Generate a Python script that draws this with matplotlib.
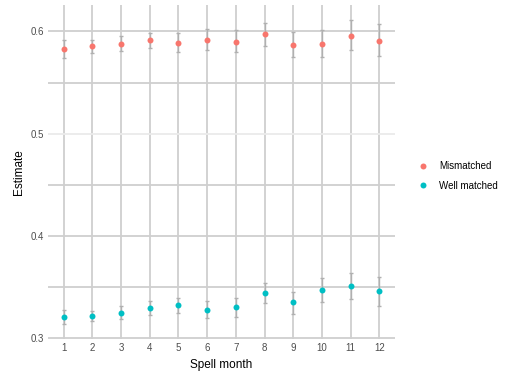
import matplotlib
matplotlib.use("Agg")
import matplotlib.pyplot as plt
from matplotlib.lines import Line2D

plt.rcParams['font.family'] = ['Liberation Sans', 'DejaVu Sans']

months = list(range(1, 13))
groups = ["Mismatched", "Well matched"]
mis_est = [0.583, 0.586, 0.588, 0.592, 0.589, 0.592, 0.590, 0.597, 0.587, 0.588, 0.596, 0.591]
mis_lo = [0.574, 0.579, 0.581, 0.584, 0.580, 0.582, 0.580, 0.586, 0.575, 0.575, 0.582, 0.576]
mis_hi = [0.592, 0.592, 0.596, 0.598, 0.598, 0.602, 0.601, 0.608, 0.599, 0.601, 0.611, 0.607]
well_est = [0.321, 0.322, 0.325, 0.3295, 0.332, 0.328, 0.330, 0.344, 0.335, 0.347, 0.351, 0.346]
well_lo = [0.314, 0.317, 0.319, 0.323, 0.325, 0.320, 0.321, 0.334, 0.324, 0.335, 0.338, 0.3315]
well_hi = [0.328, 0.327, 0.331, 0.336, 0.339, 0.336, 0.339, 0.354, 0.345, 0.359, 0.364, 0.360]
colors = ["#F8766D", "#00BFC4"]
yticks = [0.3, 0.4, 0.5, 0.6]
minor_y = [0.35, 0.45, 0.55]

fig = plt.figure(figsize=(5.05, 3.74), dpi=100)
ax = fig.add_axes([48/505, 1-339/374, (395-48)/505, (339-5)/374])

ymin = min(mis_lo + well_lo)
ymax = max(mis_hi + well_hi)
r = ymax - ymin
ax.set_ylim(ymin - 0.05*r, ymax + 0.05*r)
ax.set_xlim(1 - 0.05*11, 12 + 0.05*11)

grid_dark = "#cfcfcf"
for m in months:
    ax.axvline(m, color=grid_dark, lw=1.3, zorder=0)
for y in yticks + minor_y:
    c = "#ebebeb" if y == 0.5 else grid_dark
    ax.axhline(y, color=c, lw=1.3, zorder=0)

for est, lo, hi, col in [(mis_est, mis_lo, mis_hi, colors[0]), (well_est, well_lo, well_hi, colors[1])]:
    yerr = [[e - l for e, l in zip(est, lo)], [h - e for e, h in zip(est, hi)]]
    ax.errorbar(months, est, yerr=yerr, fmt='none', ecolor="#b0b0b0", elinewidth=1.0,
                capsize=1.5, capthick=1.0, zorder=2)
    ax.plot(months, est, 'o', color=col, markersize=4.3, markeredgewidth=0, zorder=3)

for s in ax.spines.values():
    s.set_visible(False)
ax.set_xticks(months)
ax.set_xticklabels([str(m) for m in months])
ax.set_yticks(yticks)
ax.set_yticklabels(["0.3", "0.4", "0.5", "0.6"])
ax.tick_params(axis='both', length=0, labelsize=7, labelcolor="#4d4d4d", pad=3)
ax.set_xlabel("Spell month", fontsize=8.5, labelpad=4)
ax.set_ylabel("Estimate", fontsize=8.5, labelpad=4)

handles = [Line2D([], [], marker='o', ls='none', color=c, markersize=4.3, markeredgewidth=0) for c in colors]
fig.legend(handles, groups, loc='center left', bbox_to_anchor=(407/505, 1-176/374), frameon=False,
           fontsize=7, handletextpad=0.9, labelspacing=1.0, handlelength=1.5)

fig.savefig("out.png", dpi=100)
